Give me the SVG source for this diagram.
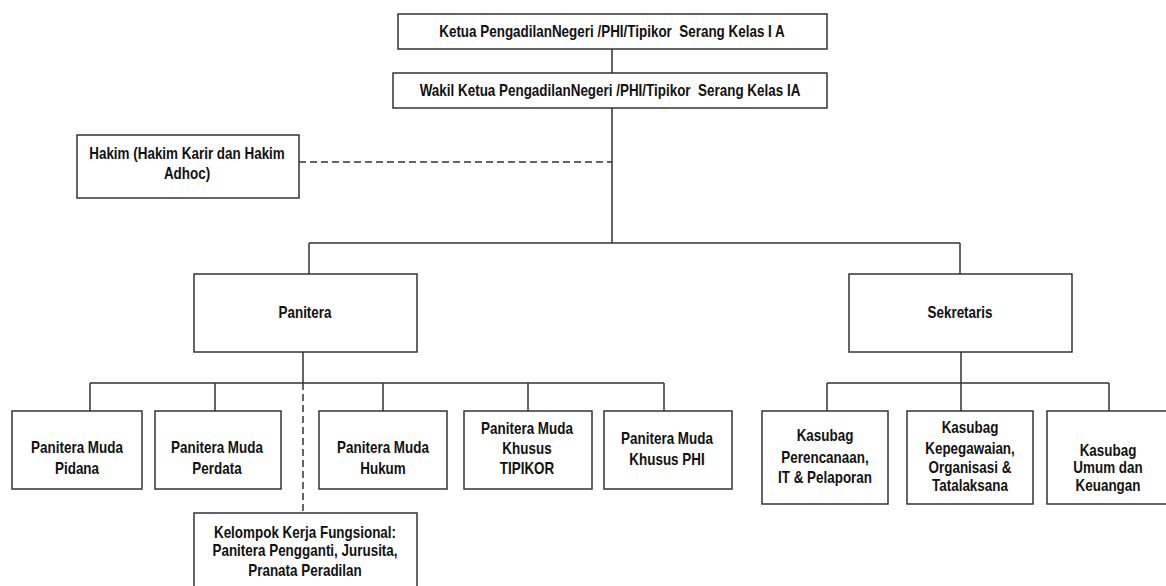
<svg xmlns="http://www.w3.org/2000/svg" width="1166" height="586" viewBox="0 0 1166 586">
<style>
.box{fill:#fff;stroke:#333;stroke-width:1.5}
.ln{fill:none;stroke:#333;stroke-width:1.5}
.dash{fill:none;stroke:#333;stroke-width:1.5;stroke-dasharray:7,4}
text{font-family:"Liberation Sans",Arial,sans-serif;font-weight:bold;font-size:16px;fill:#111;text-anchor:middle}
.pre{white-space:pre}
</style>
<rect width="1166" height="586" fill="#fff"/>
<g id="connectors">
<path class="ln" d="M612 49V73M612 108V243M309 243H960M309 243V274M960 243V274"/>
<path class="dash" d="M299 162H612"/>
<path class="ln" d="M303 352V383M90 383H664M90 383V411M215 383V411M383 383V411M528 383V411M664 383V411"/>
<path class="dash" d="M303 383V513"/>
<path class="ln" d="M961 352V383M827 383H1109M827 383V411M961 383V411M1109 383V411"/>
</g>
<g id="ketua"><rect class="box" x="398" y="14" width="429" height="35"/><text class="pre" transform="translate(612 37) scale(0.84 1)">Ketua PengadilanNegeri /PHI/Tipikor  Serang Kelas I A</text></g>
<g id="wakil"><rect class="box" x="393" y="73" width="434" height="35"/><text class="pre" transform="translate(610 96) scale(0.84 1)">Wakil Ketua PengadilanNegeri /PHI/Tipikor  Serang Kelas IA</text></g>
<g id="hakim"><rect class="box" x="77" y="135" width="222" height="63"/><text transform="translate(187 159) scale(0.84 1)">Hakim (Hakim Karir dan Hakim</text><text transform="translate(187 179) scale(0.84 1)">Adhoc)</text></g>
<g id="panitera"><rect class="box" x="194" y="274" width="223" height="78"/><text transform="translate(305 318) scale(0.84 1)">Panitera</text></g>
<g id="sekretaris"><rect class="box" x="849" y="274" width="223" height="78"/><text transform="translate(960 318) scale(0.84 1)">Sekretaris</text></g>
<g id="pm-pidana"><rect class="box" x="12" y="411" width="130" height="78"/><text transform="translate(77 453) scale(0.84 1)">Panitera Muda</text><text transform="translate(77 474) scale(0.84 1)">Pidana</text></g>
<g id="pm-perdata"><rect class="box" x="155" y="411" width="126" height="78"/><text transform="translate(217 453) scale(0.84 1)">Panitera Muda</text><text transform="translate(217 474) scale(0.84 1)">Perdata</text></g>
<g id="pm-hukum"><rect class="box" x="319" y="411" width="128" height="78"/><text transform="translate(383 453) scale(0.84 1)">Panitera Muda</text><text transform="translate(383 474) scale(0.84 1)">Hukum</text></g>
<g id="pm-tipikor"><rect class="box" x="464" y="411" width="128" height="78"/><text transform="translate(527 434) scale(0.84 1)">Panitera Muda</text><text transform="translate(527 454) scale(0.84 1)">Khusus</text><text transform="translate(527 474) scale(0.84 1)">TIPIKOR</text></g>
<g id="pm-phi"><rect class="box" x="604" y="411" width="128" height="78"/><text transform="translate(667 444) scale(0.84 1)">Panitera Muda</text><text transform="translate(667 465) scale(0.84 1)">Khusus PHI</text></g>
<g id="kelompok"><rect class="box" x="194" y="513" width="223" height="80"/><text transform="translate(305 538) scale(0.84 1)">Kelompok Kerja Fungsional:</text><text transform="translate(305 556) scale(0.84 1)">Panitera Pengganti, Jurusita,</text><text transform="translate(305 576) scale(0.84 1)">Pranata Peradilan</text></g>
<g id="kasubag-perencanaan"><rect class="box" x="762" y="411" width="126" height="93"/><text transform="translate(825 441) scale(0.84 1)">Kasubag</text><text transform="translate(825 463) scale(0.84 1)">Perencanaan,</text><text transform="translate(825 483) scale(0.84 1)">IT &amp; Pelaporan</text></g>
<g id="kasubag-kepegawaian"><rect class="box" x="907" y="411" width="126" height="93"/><text transform="translate(970 433) scale(0.84 1)">Kasubag</text><text transform="translate(970 454) scale(0.84 1)">Kepegawaian,</text><text transform="translate(970 473) scale(0.84 1)">Organisasi &amp;</text><text transform="translate(970 491) scale(0.84 1)">Tatalaksana</text></g>
<g id="kasubag-umum"><rect class="box" x="1047" y="411" width="125" height="93"/><text transform="translate(1108 456) scale(0.84 1)">Kasubag</text><text transform="translate(1108 473) scale(0.84 1)">Umum dan</text><text transform="translate(1108 491) scale(0.84 1)">Keuangan</text></g>
</svg>
